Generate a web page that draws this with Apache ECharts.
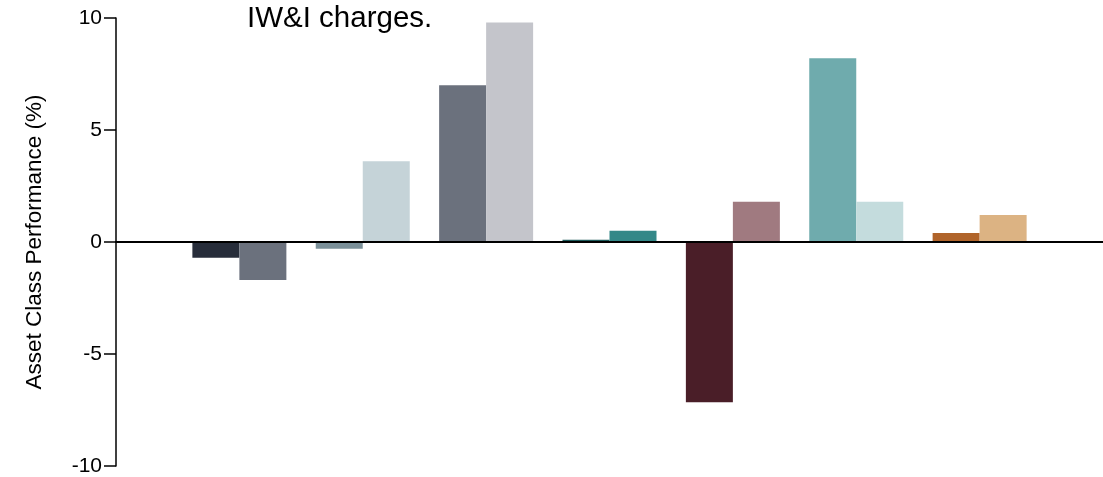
<!DOCTYPE html>
<html>
<head>
<meta charset="utf-8">
<title>Asset Class Performance</title>
<script src="https://cdn.jsdelivr.net/npm/echarts@6/dist/echarts.min.js"></script>
<style>
  html, body { margin: 0; padding: 0; background: #ffffff; }
  #chart { width: 1103px; height: 477px; }
</style>
</head>
<body>
<div id="chart"></div>
<script>
// Asset classes (blank slots at both ends keep the pairs off the axes)
const categories = ['', 'Cash', 'Bonds', 'UK Equities', 'Global Equities', 'Property', 'Alternatives', 'Commodities', ''];

// Performance for the two periods, in %
const periodA = [null, -0.7, -0.3, 7.0, 0.1, -7.15, 8.2, 0.4, null];
const periodB = [null, -1.7, 3.6, 9.8, 0.5, 1.8, 1.8, 1.2, null];

// One colour per bar, darker shade for the first period
const coloursA = [null, '#272d3a', '#7b9099', '#6b717d', '#1d5a5a', '#4a1e28', '#6fabad', '#b0642a', null];
const coloursB = [null, '#6b717d', '#c5d3d8', '#c4c5cb', '#338888', '#a07a80', '#c4dcdd', '#dcb383', null];

// Y axis ticks
const yTicks = [-10, -5, 0, 5, 10];

function colouredData(values, colours) {
  return values.map((v, i) => v === null ? null : { value: v, itemStyle: { color: colours[i] } });
}

const chart = echarts.init(document.getElementById('chart'), null, { renderer: 'canvas' });

const font = '"Liberation Sans", Arial, Helvetica, sans-serif';

chart.setOption({
  animation: false,
  backgroundColor: '#ffffff',
  textStyle: { fontFamily: font },
  title: {
    text: 'IW&I charges.',
    left: 247,
    top: 4,
    padding: 0,
    textStyle: { fontFamily: font, fontSize: 29.5, fontWeight: 'normal', color: '#000000' }
  },
  grid: { left: 116, top: 18, width: 988, height: 448, containLabel: false },
  xAxis: {
    type: 'category',
    data: categories,
    boundaryGap: false,
    axisLine: { onZero: true, lineStyle: { color: '#000000', width: 2 } },
    axisTick: { show: false },
    axisLabel: { show: false },
    splitLine: { show: false },
    z: 10
  },
  yAxis: {
    type: 'value',
    min: yTicks[0],
    max: yTicks[yTicks.length - 1],
    interval: 5,
    name: 'Asset Class Performance (%)',
    nameLocation: 'middle',
    nameGap: 70,
    nameTextStyle: { fontFamily: font, fontSize: 22.5, color: '#000000' },
    axisLine: { show: true, lineStyle: { color: '#000000', width: 1.5 } },
    axisTick: { show: true, length: 12, lineStyle: { color: '#000000', width: 1.5 } },
    axisLabel: { fontFamily: font, fontSize: 21, color: '#000000', margin: 14 },
    splitLine: { show: false }
  },
  series: [
    {
      name: 'Period A',
      type: 'bar',
      data: colouredData(periodA, coloursA),
      barWidth: 47,
      barGap: '0%'
    },
    {
      name: 'Period B',
      type: 'bar',
      data: colouredData(periodB, coloursB),
      barWidth: 47,
      barGap: '0%'
    }
  ]
});
</script>
</body>
</html>
